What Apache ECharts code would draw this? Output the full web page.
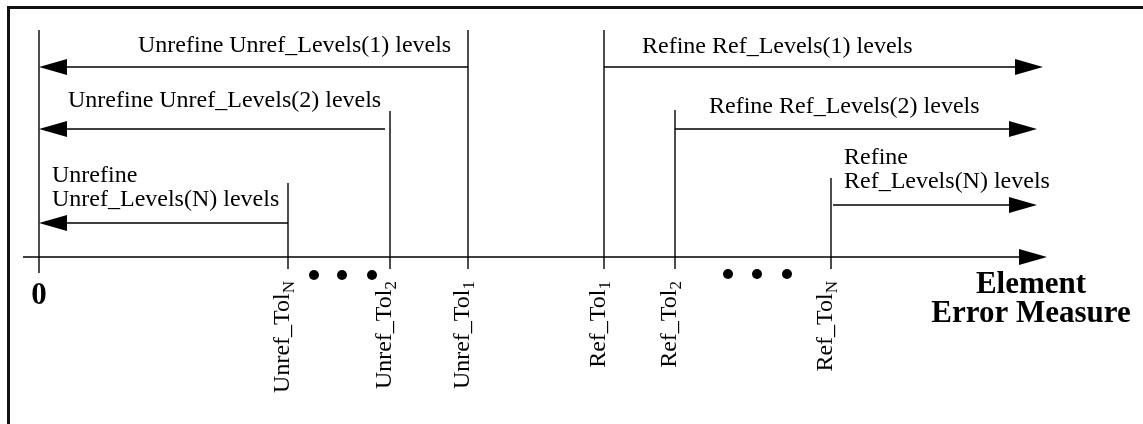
<!DOCTYPE html>
<html>
<head>
<meta charset="utf-8">
<script src="https://cdn.jsdelivr.net/npm/echarts@6/dist/echarts.min.js"></script>
<style>
  html, body { margin: 0; padding: 0; background: #fff; }
  #chart { width: 1143px; height: 424px; }
</style>
</head>
<body>
<div id="chart"></div>
<script>
  // error measure axis: x in page units, y counted down from the top
  var zeroX = 39
  var axisY = 257
  var axisStart = 23
  var axisTip = 1047

  // tolerances on the axis
  var tolKinds = ['Unref_Tol', 'Unref_Tol', 'Unref_Tol', 'Ref_Tol', 'Ref_Tol', 'Ref_Tol']
  var tolSubs = ['N', '2', '1', '1', '2', 'N']
  var tolX = [288, 390, 468, 604, 675, 831]
  var tolTop = [183, 111, 30, 30, 110, 178]

  // level arrows: where they leave the tolerance line, where they point, height
  var arrowStart = [468, 385, 288, 604, 675, 833]
  var arrowTip = [39, 39, 39, 1043, 1037, 1037]
  var arrowY = [67, 129, 223, 67, 129, 205]

  var levelLabels = [
    'Unrefine Unref_Levels(1) levels',
    'Unrefine Unref_Levels(2) levels',
    'Unrefine\nUnref_Levels(N) levels',
    'Refine Ref_Levels(1) levels',
    'Refine Ref_Levels(2) levels',
    'Refine\nRef_Levels(N) levels'
  ]
  var levelLabelX = [138, 68, 52, 642, 709, 844]
  var levelLabelY = [46, 101, 188, 47, 107, 170]

  // the "..." between the tolerances
  var dotX = [314, 342, 372, 728, 757, 787]
  var dotY = [275, 275, 275, 274, 274, 274]

  var serif = '"Liberation Serif", "Times New Roman", serif'
  var ink = '#000'

  var chart = echarts.init(document.getElementById('chart'))

  var vLines = tolX.map(function(x, i) { return [x, tolTop[i], 269] })
  vLines.push([zeroX, 30, 273])

  var arrows = arrowStart.map(function(s, i) { return [s, arrowTip[i], arrowY[i]] })
  arrows.push([axisStart, axisTip, axisY])

  chart.setOption({
    animation: false,
    backgroundColor: '#fff',
    grid: { left: 0, right: 0, top: 0, bottom: 0 },
    xAxis: { type: 'value', min: 0, max: 1143, show: false },
    yAxis: { type: 'value', min: 0, max: 424, inverse: true, show: false },
    graphic: [{
      type: 'polyline',
      shape: { points: [[8.5, 424], [8.5, 7.5], [1143, 7.5]] },
      style: { stroke: '#111', lineWidth: 3, fill: null }
    }],
    series: [
      {
        // tolerance lines
        type: 'custom',
        data: vLines,
        renderItem: function(params, api) {
          var a = api.coord([api.value(0), api.value(1)])
          var b = api.coord([api.value(0), api.value(2)])
          return {
            type: 'line',
            shape: { x1: a[0], y1: a[1], x2: b[0], y2: b[1] },
            style: { stroke: ink, lineWidth: 1.4 }
          }
        }
      },
      {
        // arrows
        type: 'custom',
        data: arrows,
        renderItem: function(params, api) {
          var a = api.coord([api.value(0), api.value(2)])
          var b = api.coord([api.value(1), api.value(2)])
          var dir = b[0] > a[0] ? 1 : -1
          var base = b[0] - dir * 28
          return {
            type: 'group',
            children: [{
              type: 'line',
              shape: { x1: a[0], y1: a[1], x2: base, y2: b[1] },
              style: { stroke: ink, lineWidth: 1.4 }
            }, {
              type: 'polygon',
              shape: { points: [[b[0], b[1]], [base, b[1] - 8], [base, b[1] + 8]] },
              style: { fill: ink }
            }]
          }
        }
      },
      {
        // level texts
        type: 'custom',
        data: levelLabels.map(function(t, i) { return [levelLabelX[i], levelLabelY[i], i] }),
        renderItem: function(params, api) {
          var p = api.coord([api.value(0), api.value(1)])
          return {
            type: 'text',
            x: p[0],
            y: p[1],
            style: {
              text: levelLabels[params.dataIndex],
              fontFamily: serif,
              fontSize: 24,
              lineHeight: 24,
              fill: ink,
              align: 'left',
              verticalAlign: 'middle'
            }
          }
        }
      },
      {
        // rotated tolerance names
        type: 'custom',
        data: tolX.map(function(x, i) { return [x - 5, 281] }),
        renderItem: function(params, api) {
          var p = api.coord([api.value(0), api.value(1)])
          var i = params.dataIndex
          return {
            type: 'text',
            x: p[0],
            y: p[1],
            rotation: Math.PI / 2,
            style: {
              text: tolKinds[i] + '{s|' + tolSubs[i] + '}',
              fontFamily: serif,
              fontSize: 24,
              lineHeight: 30,
              fill: ink,
              align: 'right',
              verticalAlign: 'middle',
              rich: {
                s: { fontFamily: serif, fontSize: 17, fill: ink, verticalAlign: 'bottom' }
              }
            }
          }
        }
      },
      {
        type: 'scatter',
        data: dotX.map(function(x, i) { return [x, dotY[i]] }),
        symbol: 'circle',
        symbolSize: 10,
        itemStyle: { color: ink, opacity: 1 }
      },
      {
        // axis texts
        type: 'custom',
        data: [[zeroX, 296], [1031, 299]],
        renderItem: function(params, api) {
          var p = api.coord([api.value(0), api.value(1)])
          return {
            type: 'text',
            x: p[0],
            y: p[1],
            style: {
              text: params.dataIndex === 0 ? '0' : 'Element\nError Measure',
              fontFamily: serif,
              fontWeight: 'bold',
              fontSize: 31,
              lineHeight: 29,
              fill: ink,
              align: 'center',
              verticalAlign: 'middle'
            }
          }
        }
      }
    ]
  })
</script>
</body>
</html>
